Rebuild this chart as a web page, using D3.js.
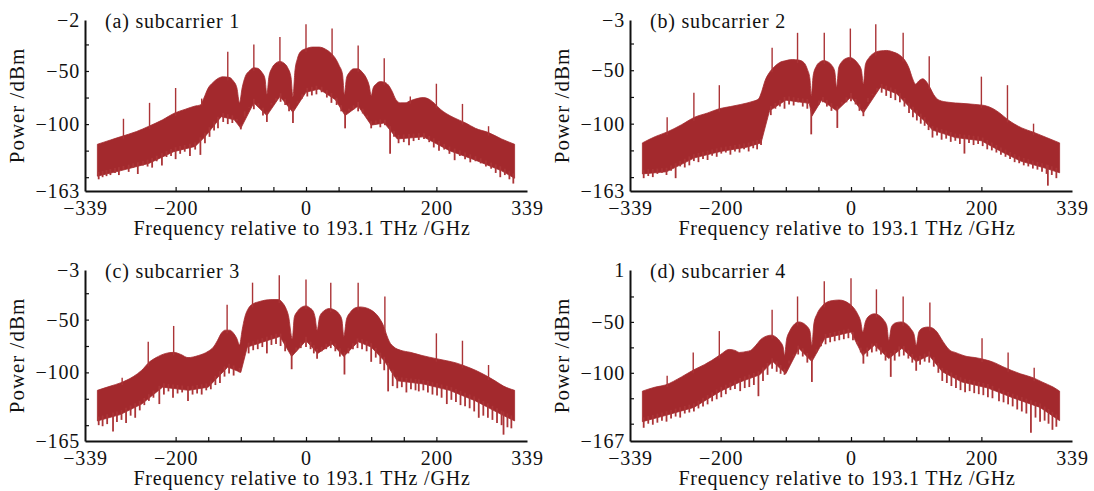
<!DOCTYPE html>
<html>
<head>
<meta charset="utf-8">
<script src="https://d3js.org/d3.v7.min.js"></script>
<style>
  body { margin: 0; background: #fff; }
  text { font-family: "Liberation Serif", "DejaVu Serif", serif; fill: #111; }
  .axis path, .axis line { stroke: #111; }
</style>
</head>
<body>
<svg id="chart" width="1094" height="491"></svg>
<script>
// ---- data ----
const panelTitles = ["(a) subcarrier 1", "(b) subcarrier 2", "(c) subcarrier 3", "(d) subcarrier 4"];
const yMins = [-163, -163, -165, -167];
const yMaxs = [-2, -3, -3, 1];
const xLabelTicks = [-339, -200, 0, 200, 339];
const xMinorTicks = [-200, -150, -100, -50, 0, 50, 100, 150, 200];
const yMinorTicks = [-150, -125, -100, -75, -50, -25];
const xTitle = "Frequency relative to 193.1 THz /GHz";
const yTitle = "Power /dBm";

// upper edge of the spectrum [GHz, dBm]
const topA = [[-320,-119],[-300,-115],[-285,-112],[-260,-107],[-241,-102],[-220,-96],[-203,-90],[-185,-86],[-170,-83],[-162,-82],[-157,-76],[-150,-66],[-143,-61],[-135,-57],[-127,-55.5],[-118,-56],[-112,-59],[-106,-66],[-102,-80],[-98,-66],[-93,-55],[-87,-50],[-80,-47],[-74,-47.5],[-68,-51],[-63,-57],[-60,-72],[-57,-56],[-52,-47],[-46,-42.5],[-40,-41],[-34,-42.5],[-28,-47],[-23,-56],[-20,-74],[-17,-50],[-13,-38],[-7,-31],[0,-29],[10,-27.5],[20,-27.5],[30,-29.5],[38,-33],[45,-38],[51,-45],[56,-53],[59,-72],[62,-57],[67,-51],[73,-48],[80,-48],[86,-51],[92,-56],[97,-64],[100,-73],[103,-66],[108,-62],[114,-60],[120,-60.5],[126,-63],[132,-69],[138,-77],[145,-80],[152,-80],[160,-78],[170,-76],[180,-75],[190,-77],[198,-81],[206,-86],[215,-90],[227,-94],[245,-99],[260,-104],[280,-108],[300,-114],[320,-119]];
const topB = [[-320,-118],[-300,-112],[-283,-108],[-260,-101],[-240,-94],[-220,-90],[-202,-86],[-185,-84],[-169,-82],[-150,-79],[-142,-77],[-137,-70],[-132,-60],[-125,-52],[-118,-47],[-110,-43],[-100,-41],[-90,-40],[-80,-40.5],[-72,-43],[-67,-49],[-63,-58],[-61,-74],[-58,-55],[-53,-46],[-47,-42],[-42,-41],[-36,-42],[-30,-45],[-25,-51],[-22,-66],[-19,-48],[-14,-42],[-8,-39],[-2,-38],[5,-40],[11,-44],[16,-50],[19,-63],[22,-45],[28,-38],[35,-34],[44,-32],[55,-31.5],[65,-33],[75,-36],[83,-41],[89,-48],[94,-57],[99,-63],[104,-60],[110,-58],[116,-61],[121,-66],[127,-73],[135,-78],[150,-80],[170,-81],[190,-82],[205,-83],[218,-86],[228,-90],[240,-96],[262,-104],[280,-108],[300,-113],[320,-118]];
const topC = [[-320,-117],[-300,-113],[-285,-110],[-265,-104],[-252,-98],[-240,-90],[-230,-86],[-215,-82],[-203,-81],[-192,-83],[-181,-86],[-165,-84],[-150,-80],[-142,-76],[-136,-70],[-130,-63],[-124,-60],[-117,-60],[-111,-63],[-106,-68],[-102,-74],[-98,-60],[-94,-48],[-88,-39],[-81,-35],[-72,-33],[-62,-31.5],[-52,-31],[-42,-31],[-36,-34],[-31,-39],[-27,-46],[-21,-68],[-18,-48],[-13,-42],[-6,-38],[0,-37],[6,-39],[11,-42],[14,-48],[17,-60],[21,-47],[27,-42],[36,-39.5],[44,-41],[50,-44],[55,-50],[58,-66],[62,-50],[68,-43],[75,-39],[82,-38],[90,-38.5],[100,-41],[108,-45],[114,-50],[119,-56],[124,-65],[128,-71],[135,-76],[145,-79],[160,-81],[178,-84],[200,-87],[216,-89],[230,-91],[244,-94],[260,-98],[276,-103],[290,-108],[303,-113],[320,-117]];
const topD = [[-320,-118],[-300,-114],[-285,-112],[-260,-104],[-241,-97],[-225,-92],[-214,-88],[-200,-82],[-187,-77],[-178,-78],[-171,-80],[-160,-79],[-154,-78],[-146,-73],[-138,-67],[-130,-64],[-122,-63],[-115,-65],[-109,-69],[-104,-75],[-102,-83],[-99,-68],[-94,-59],[-88,-53],[-80,-50],[-74,-51],[-68,-54],[-63,-59],[-60,-73],[-57,-52],[-52,-42],[-45,-35],[-38,-31],[-28,-29],[-18,-28.5],[-10,-29.5],[-3,-32],[4,-36],[10,-42],[15,-50],[18,-60],[22,-50],[28,-44],[36,-42],[44,-44],[50,-48],[55,-54],[58,-68],[62,-55],[68,-51],[77,-50],[85,-52],[92,-57],[97,-63],[100,-73],[104,-60],[110,-56],[118,-55],[125,-56],[132,-60],[138,-66],[144,-72],[152,-78],[160,-80],[178,-84],[190,-85],[205,-87],[220,-90],[233,-94],[260,-101],[280,-105],[293,-109],[310,-114],[320,-118]];

// lower edge of the solid body [GHz, dBm]
const bodyA = [[-320,-149],[-285,-144],[-241,-137],[-203,-126],[-170,-121],[-155,-112],[-130,-93],[-110,-96],[-100,-104],[-80,-80],[-60,-92],[-40,-74],[-20,-89],[0,-70],[20,-67],[45,-77],[60,-92],[80,-83],[100,-101],[120,-99],[140,-114],[180,-112],[220,-125],[260,-134],[300,-144],[320,-151]];
const bodyB = [[-320,-147],[-283,-145],[-240,-132],[-200,-126],[-160,-122],[-138,-118],[-125,-88],[-100,-78],[-64,-81],[-60,-93],[-45,-78],[-22,-88],[0,-75],[19,-90],[45,-66],[70,-72],[95,-88],[112,-97],[125,-106],[160,-113],[200,-116],[230,-126],[260,-135],[300,-142],[320,-146]];
const bodyC = [[-320,-146],[-285,-140],[-252,-130],[-220,-114],[-180,-117],[-150,-114],[-120,-95],[-100,-100],[-90,-76],[-60,-70],[-40,-66],[-22,-85],[0,-70],[18,-82],[40,-73],[58,-85],[80,-71],[100,-76],[120,-89],[140,-108],[180,-111],[220,-117],[260,-127],[300,-140],[320,-146]];
const bodyD = [[-320,-148],[-285,-142],[-241,-134],[-200,-118],[-170,-109],[-140,-102],[-120,-89],[-100,-101],[-80,-76],[-60,-89],[-40,-66],[-20,-63],[0,-60],[18,-83],[36,-73],[58,-86],[78,-76],[100,-89],[120,-83],[140,-99],[170,-109],[210,-115],[250,-125],[290,-134],[320,-147]];

// downward noise streaks [GHz, dBm]
const dipsA = [[-318,-152],[-312,-150],[-306,-149],[-300,-148],[-293,-146],[-287,-148],[-280,-143],[-272,-145],[-265,-141],[-258,-147],[-250,-139],[-243,-140],[-236,-141],[-229,-135],[-221,-139],[-214,-131],[-207,-130],[-200,-133],[-193,-128],[-186,-126],[-178,-130],[-170,-124],[-162,-129],[-155,-118],[-148,-112],[-141,-106],[-135,-104],[-127,-98],[-120,-100],[-113,-99],[-106,-97],[-100,-105],[-94,-88],[-87,-84],[-80,-86],[-73,-83],[-66,-92],[-60,-98],[-53,-80],[-46,-78],[-39,-79],[-32,-82],[-26,-88],[-20,-99],[-13,-80],[-6,-76],[2,-74],[9,-73],[16,-72],[24,-70],[32,-75],[39,-80],[47,-82],[54,-88],[60,-104],[66,-88],[73,-86],[80,-88],[87,-90],[94,-94],[100,-104],[107,-100],[114,-103],[121,-101],[129,-128],[135,-112],[142,-118],[150,-117],[158,-120],[165,-116],[173,-115],[181,-114],[189,-117],[196,-122],[204,-125],[212,-124],[220,-128],[228,-134],[236,-130],[244,-133],[252,-136],[260,-135],[268,-137],[276,-140],[284,-142],[291,-146],[298,-150],[305,-148],[312,-152],[318,-156]];
const dipsB = [[-318,-151],[-311,-149],[-304,-150],[-297,-147],[-290,-146],[-283,-148],[-276,-144],[-269,-151],[-262,-140],[-255,-141],[-248,-139],[-241,-135],[-234,-136],[-227,-133],[-220,-134],[-213,-130],[-206,-131],[-199,-128],[-192,-127],[-185,-129],[-178,-126],[-171,-127],[-164,-124],[-157,-126],[-150,-123],[-144,-124],[-138,-120],[-130,-96],[-123,-92],[-116,-86],[-109,-84],[-102,-86],[-95,-82],[-88,-83],[-81,-80],[-74,-84],[-67,-86],[-61,-110],[-55,-84],[-49,-82],[-43,-80],[-37,-84],[-30,-88],[-21,-104],[-14,-82],[-7,-80],[0,-79],[7,-82],[13,-88],[19,-93],[26,-76],[33,-72],[40,-70],[47,-71],[54,-74],[61,-76],[68,-78],[75,-80],[82,-84],[89,-90],[95,-94],[101,-97],[107,-100],[113,-102],[119,-106],[125,-113],[132,-111],[139,-115],[146,-114],[153,-117],[160,-116],[167,-119],[174,-128],[181,-118],[188,-120],[195,-119],[202,-121],[209,-124],[216,-125],[223,-127],[230,-129],[237,-131],[244,-133],[251,-136],[258,-137],[265,-139],[272,-140],[279,-142],[286,-143],[293,-145],[300,-147],[302,-158],[308,-148],[315,-151]];
const dipsC = [[-318,-150],[-312,-151],[-305,-149],[-296,-156],[-290,-147],[-283,-145],[-276,-148],[-269,-141],[-262,-143],[-255,-136],[-248,-131],[-241,-127],[-234,-124],[-225,-130],[-218,-121],[-211,-118],[-204,-124],[-197,-120],[-190,-119],[-181,-127],[-174,-121],[-167,-120],[-160,-121],[-153,-117],[-146,-116],[-139,-112],[-132,-110],[-125,-104],[-118,-101],[-111,-103],[-102,-100],[-95,-86],[-88,-82],[-81,-79],[-74,-78],[-67,-76],[-60,-82],[-53,-74],[-46,-73],[-39,-75],[-32,-80],[-22,-97],[-15,-80],[-8,-77],[0,-76],[7,-78],[12,-82],[17,-87],[24,-80],[31,-78],[38,-77],[45,-80],[52,-85],[59,-102],[65,-82],[72,-78],[79,-77],[86,-78],[93,-80],[100,-90],[107,-86],[114,-92],[120,-98],[126,-118],[133,-113],[140,-115],[147,-114],[154,-119],[161,-116],[168,-117],[173,-118],[180,-117],[187,-119],[194,-121],[201,-122],[208,-124],[216,-130],[223,-126],[230,-128],[237,-131],[244,-132],[251,-134],[258,-137],[265,-143],[272,-141],[279,-143],[286,-145],[293,-148],[300,-150],[303,-159],[309,-152],[315,-153]];
const dipsD = [[-318,-154],[-311,-150],[-304,-151],[-297,-149],[-290,-147],[-283,-148],[-276,-145],[-269,-143],[-262,-144],[-255,-140],[-248,-139],[-241,-138],[-234,-135],[-227,-133],[-220,-131],[-213,-128],[-206,-126],[-199,-124],[-192,-121],[-185,-117],[-178,-116],[-170,-118],[-163,-115],[-156,-114],[-149,-112],[-142,-123],[-135,-108],[-128,-102],[-121,-96],[-114,-99],[-108,-101],[-102,-102],[-95,-88],[-88,-84],[-81,-82],[-74,-84],[-67,-90],[-60,-109],[-53,-80],[-46,-74],[-39,-72],[-32,-70],[-25,-69],[-18,-68],[-11,-67],[-4,-66],[3,-68],[10,-72],[15,-80],[19,-91],[25,-84],[32,-80],[39,-79],[46,-82],[53,-88],[61,-104],[67,-88],[74,-84],[81,-83],[88,-86],[94,-90],[100,-98],[106,-92],[113,-89],[120,-90],[127,-94],[134,-100],[140,-108],[147,-110],[154,-113],[161,-115],[168,-117],[175,-119],[182,-118],[189,-120],[196,-121],[203,-122],[210,-124],[217,-125],[227,-128],[234,-129],[241,-131],[248,-133],[255,-136],[262,-138],[269,-140],[276,-159],[283,-144],[290,-148],[297,-147],[303,-150],[309,-156],[315,-153]];

// carrier / tone lines [GHz, dBm]
const tonesA = [[-280,-95],[-240,-80],[-200,-66],[-160,-76],[-120,-32],[-80,-25],[-40,-18],[0,-6],[40,-10],[80,-26],[120,-38],[160,-74],[200,-62],[240,-81],[280,-102]];
const tonesB = [[-282,-94],[-241,-71],[-202,-64],[-121,-29],[-82,-15],[-41,-15],[-1,-11],[38,-7],[80,-15],[120,-37],[200,-56],[240,-64],[280,-100]];
const tonesC = [[-282,-105],[-242,-71],[-203,-56],[-121,-36],[-82,-15],[-41,-8],[0,-12],[38,-15],[80,-15],[121,-28],[200,-63],[240,-70],[280,-93]];
const tonesD = [[-282,-103],[-242,-80],[-202,-59],[-121,-38],[-82,-25],[-41,-10],[0,-7],[39,-18],[80,-25],[121,-31],[201,-66],[241,-80],[281,-95]];

const tops = [topA, topB, topC, topD];
const bodies = [bodyA, bodyB, bodyC, bodyD];
const dips = [dipsA, dipsB, dipsC, dipsD];
const tones = [tonesA, tonesB, tonesC, tonesD];

// ---- drawing ----
const svg = d3.select("#chart");
const W = 442, H = 171;
const fill = "#a3292d", streak = "#ab3437";
const minus = s => String(s).replace("-", "\u2212");

// position along a polyline of key points (for attaching streaks to the body)
function along(pts, f) {
  for (let i = 1; i < pts.length; i++) {
    if (f <= pts[i][0]) {
      const [f0, v0] = pts[i - 1], [f1, v1] = pts[i];
      return v0 + (v1 - v0) * (f - f0) / (f1 - f0);
    }
  }
  return pts[pts.length - 1][1];
}

function labelStyle(a, size, spacing) {
  a.selectAll("text").attr("font-size", size).attr("font-family", null)
    .attr("letter-spacing", spacing).attr("fill", "#111");
}

for (let p = 0; p < 4; p++) {
  const ox = 85 + 545 * (p % 2), oy = 20 + 250 * Math.floor(p / 2);
  const g = svg.append("g").attr("transform", `translate(${ox},${oy})`);

  const x = d3.scaleLinear().domain([-339, 339]).range([0, W]);
  const y = d3.scaleLinear().domain([yMins[p], yMaxs[p]]).range([H, 0]);

  // spectrum body: rounded top edge, ragged bottom edge
  const topLine = d3.line().x(d => x(d[0])).y(d => y(d[1])).curve(d3.curveMonotoneX);
  const botLine = d3.line().x(d => x(d[0])).y(d => y(d[1]));
  const back = bodies[p].slice().reverse();
  g.append("path")
    .attr("d", topLine(tops[p]) + "L" + botLine(back).slice(1) + "Z")
    .attr("fill", fill)
    .attr("stroke", fill)
    .attr("stroke-width", 0.8);

  // downward noise streaks
  g.selectAll(".dip").data(dips[p]).enter().append("line")
    .attr("x1", d => x(d[0])).attr("x2", d => x(d[0]))
    .attr("y1", d => y(along(bodies[p], d[0])) - 4)
    .attr("y2", d => y(d[1]))
    .attr("stroke", streak).attr("stroke-width", 1.8);

  // tone lines
  g.selectAll(".tone").data(tones[p]).enter().append("line")
    .attr("x1", d => x(d[0])).attr("x2", d => x(d[0]))
    .attr("y1", d => y(along(tops[p], d[0])) + 3)
    .attr("y2", d => y(d[1]))
    .attr("stroke", streak).attr("stroke-width", 1.4);

  // x axis: inward ticks + labels
  g.append("g").attr("class", "axis").attr("transform", `translate(0,${H})`)
    .call(d3.axisBottom(x).tickValues(xMinorTicks).tickSizeInner(-4).tickSizeOuter(0).tickFormat(""))
    .call(a => a.select(".domain").attr("stroke-width", 2))
    .call(a => a.selectAll(".tick line").attr("stroke", "#555").attr("stroke-width", 1.2));
  g.append("g").attr("transform", `translate(0,${H})`)
    .call(d3.axisBottom(x).tickValues(xLabelTicks).tickSize(0).tickPadding(10).tickFormat(minus))
    .call(a => a.select(".domain").remove())
    .call(a => labelStyle(a, 20, 0.8));

  // y axis
  g.append("g").attr("class", "axis")
    .call(d3.axisLeft(y).tickValues(yMinorTicks).tickSizeInner(-4).tickSizeOuter(0).tickFormat(""))
    .call(a => a.select(".domain").attr("stroke-width", 2))
    .call(a => a.selectAll(".tick line").attr("stroke", "#555").attr("stroke-width", 1.2));
  g.append("g")
    .call(d3.axisLeft(y).tickValues([yMins[p], -100, -50, yMaxs[p]]).tickSize(0).tickPadding(5).tickFormat(minus))
    .call(a => a.select(".domain").remove())
    .call(a => labelStyle(a, 20, 0.8));

  // titles
  g.append("text").attr("x", 20).attr("y", 8).attr("font-size", 20)
    .attr("letter-spacing", 0.8).text(panelTitles[p]);
  g.append("text").attr("x", W / 2 - 4).attr("y", H + 44).attr("text-anchor", "middle")
    .attr("font-size", 20).attr("letter-spacing", 0.8).text(xTitle);
  g.append("text").attr("transform", `translate(-61,${H / 2}) rotate(-90)`)
    .attr("text-anchor", "middle").attr("font-size", 21).attr("letter-spacing", 1).text(yTitle);
}
</script>
</body>
</html>
